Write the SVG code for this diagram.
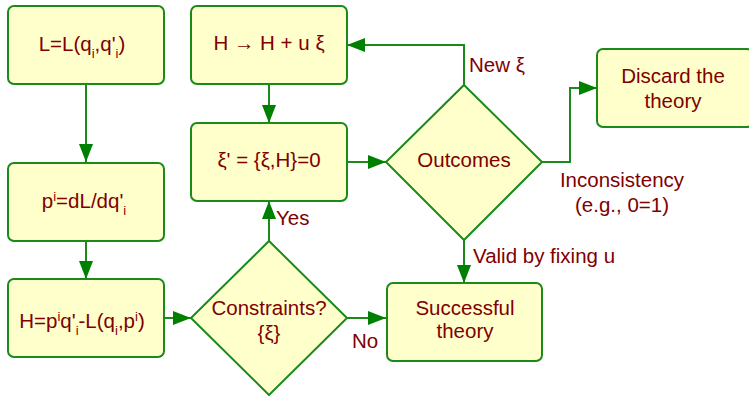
<svg xmlns="http://www.w3.org/2000/svg" width="749" height="396" viewBox="0 0 749 396">
<defs>
<marker id="ah" markerUnits="userSpaceOnUse" markerWidth="19" markerHeight="14" refX="18" refY="7" orient="auto">
<path d="M0,0 L18,7 L0,14 z" fill="#008000"/>
</marker>
<style>
.n{fill:#ffffcc;stroke:#1a8a1a;stroke-width:2}
.c{fill:none;stroke:#1a8a1a;stroke-width:2;marker-end:url(#ah)}
text{font-family:"Liberation Sans",Arial,sans-serif;font-size:20.5px;fill:#800000}
.m{text-anchor:middle}
.s{font-size:13px}
</style>
</defs>
<g id="connectors">
<path class="c" d="M86,84 V162"/>
<path class="c" d="M86,241 V279"/>
<path class="c" d="M164,318 H191"/>
<path class="c" d="M269,241 V201"/>
<path class="c" d="M347,318 H386"/>
<path class="c" d="M269,84 V123"/>
<path class="c" d="M347,162 H386"/>
<path class="c" d="M464,85 V45 H347"/>
<path class="c" d="M542,162 H570 V88 H597"/>
<path class="c" d="M464,240 V283"/>
<text x="469" y="72">New ξ</text>
<text x="622" y="187" class="m">Inconsistency</text>
<text x="622" y="212" class="m">(e.g., 0=1)</text>
<text x="473" y="263">Valid by fixing u</text>
<text x="276" y="225">Yes</text>
<text x="352" y="348">No</text>
</g>
<g id="n1">
<rect class="n" x="8" y="6" width="156" height="78" rx="6"/>
<text x="82" y="51" class="m">L=L(q<tspan class="s" dy="7">i</tspan><tspan dy="-7">,q'</tspan><tspan class="s" dy="7">i</tspan><tspan dy="-7">)</tspan></text>
</g>
<g id="n2">
<rect class="n" x="8" y="163" width="156" height="78" rx="6"/>
<text x="84" y="208" class="m">p<tspan class="s" dy="-7">i</tspan><tspan dy="7">=dL/dq'</tspan><tspan class="s" dy="7">i</tspan></text>
</g>
<g id="n3">
<rect class="n" x="8" y="279" width="156" height="78" rx="6"/>
<text x="82" y="328" class="m">H=p<tspan class="s" dy="-7">i</tspan><tspan dy="7">q'</tspan><tspan class="s" dy="7">i</tspan><tspan dy="-7">-L(q</tspan><tspan class="s" dy="7">i</tspan><tspan dy="-7">,p</tspan><tspan class="s" dy="-7">i</tspan><tspan dy="7">)</tspan></text>
</g>
<g id="n4">
<rect class="n" x="191" y="6" width="156" height="78" rx="6"/>
<text x="269" y="50" class="m">H → H + u ξ</text>
</g>
<g id="n5">
<rect class="n" x="191" y="123" width="156" height="78" rx="6"/>
<text x="269" y="167" class="m">ξ' = {ξ,H}=0</text>
</g>
<g id="n6">
<polygon class="n" points="269,241 347,318 269,395 191,318"/>
<text x="269" y="315" class="m">Constraints?</text>
<text x="269" y="340" class="m">{ξ}</text>
</g>
<g id="n7">
<polygon class="n" points="464,85 542,162 464,240 386,162"/>
<text x="464" y="167" class="m">Outcomes</text>
</g>
<g id="n8">
<rect class="n" x="387" y="283" width="155" height="78" rx="6"/>
<text x="465" y="315" class="m">Successful</text>
<text x="465" y="338" class="m">theory</text>
</g>
<g id="n9">
<rect class="n" x="597" y="49" width="156" height="78" rx="6"/>
<text x="673" y="83" class="m">Discard the</text>
<text x="673" y="108" class="m">theory</text>
</g>
</svg>
